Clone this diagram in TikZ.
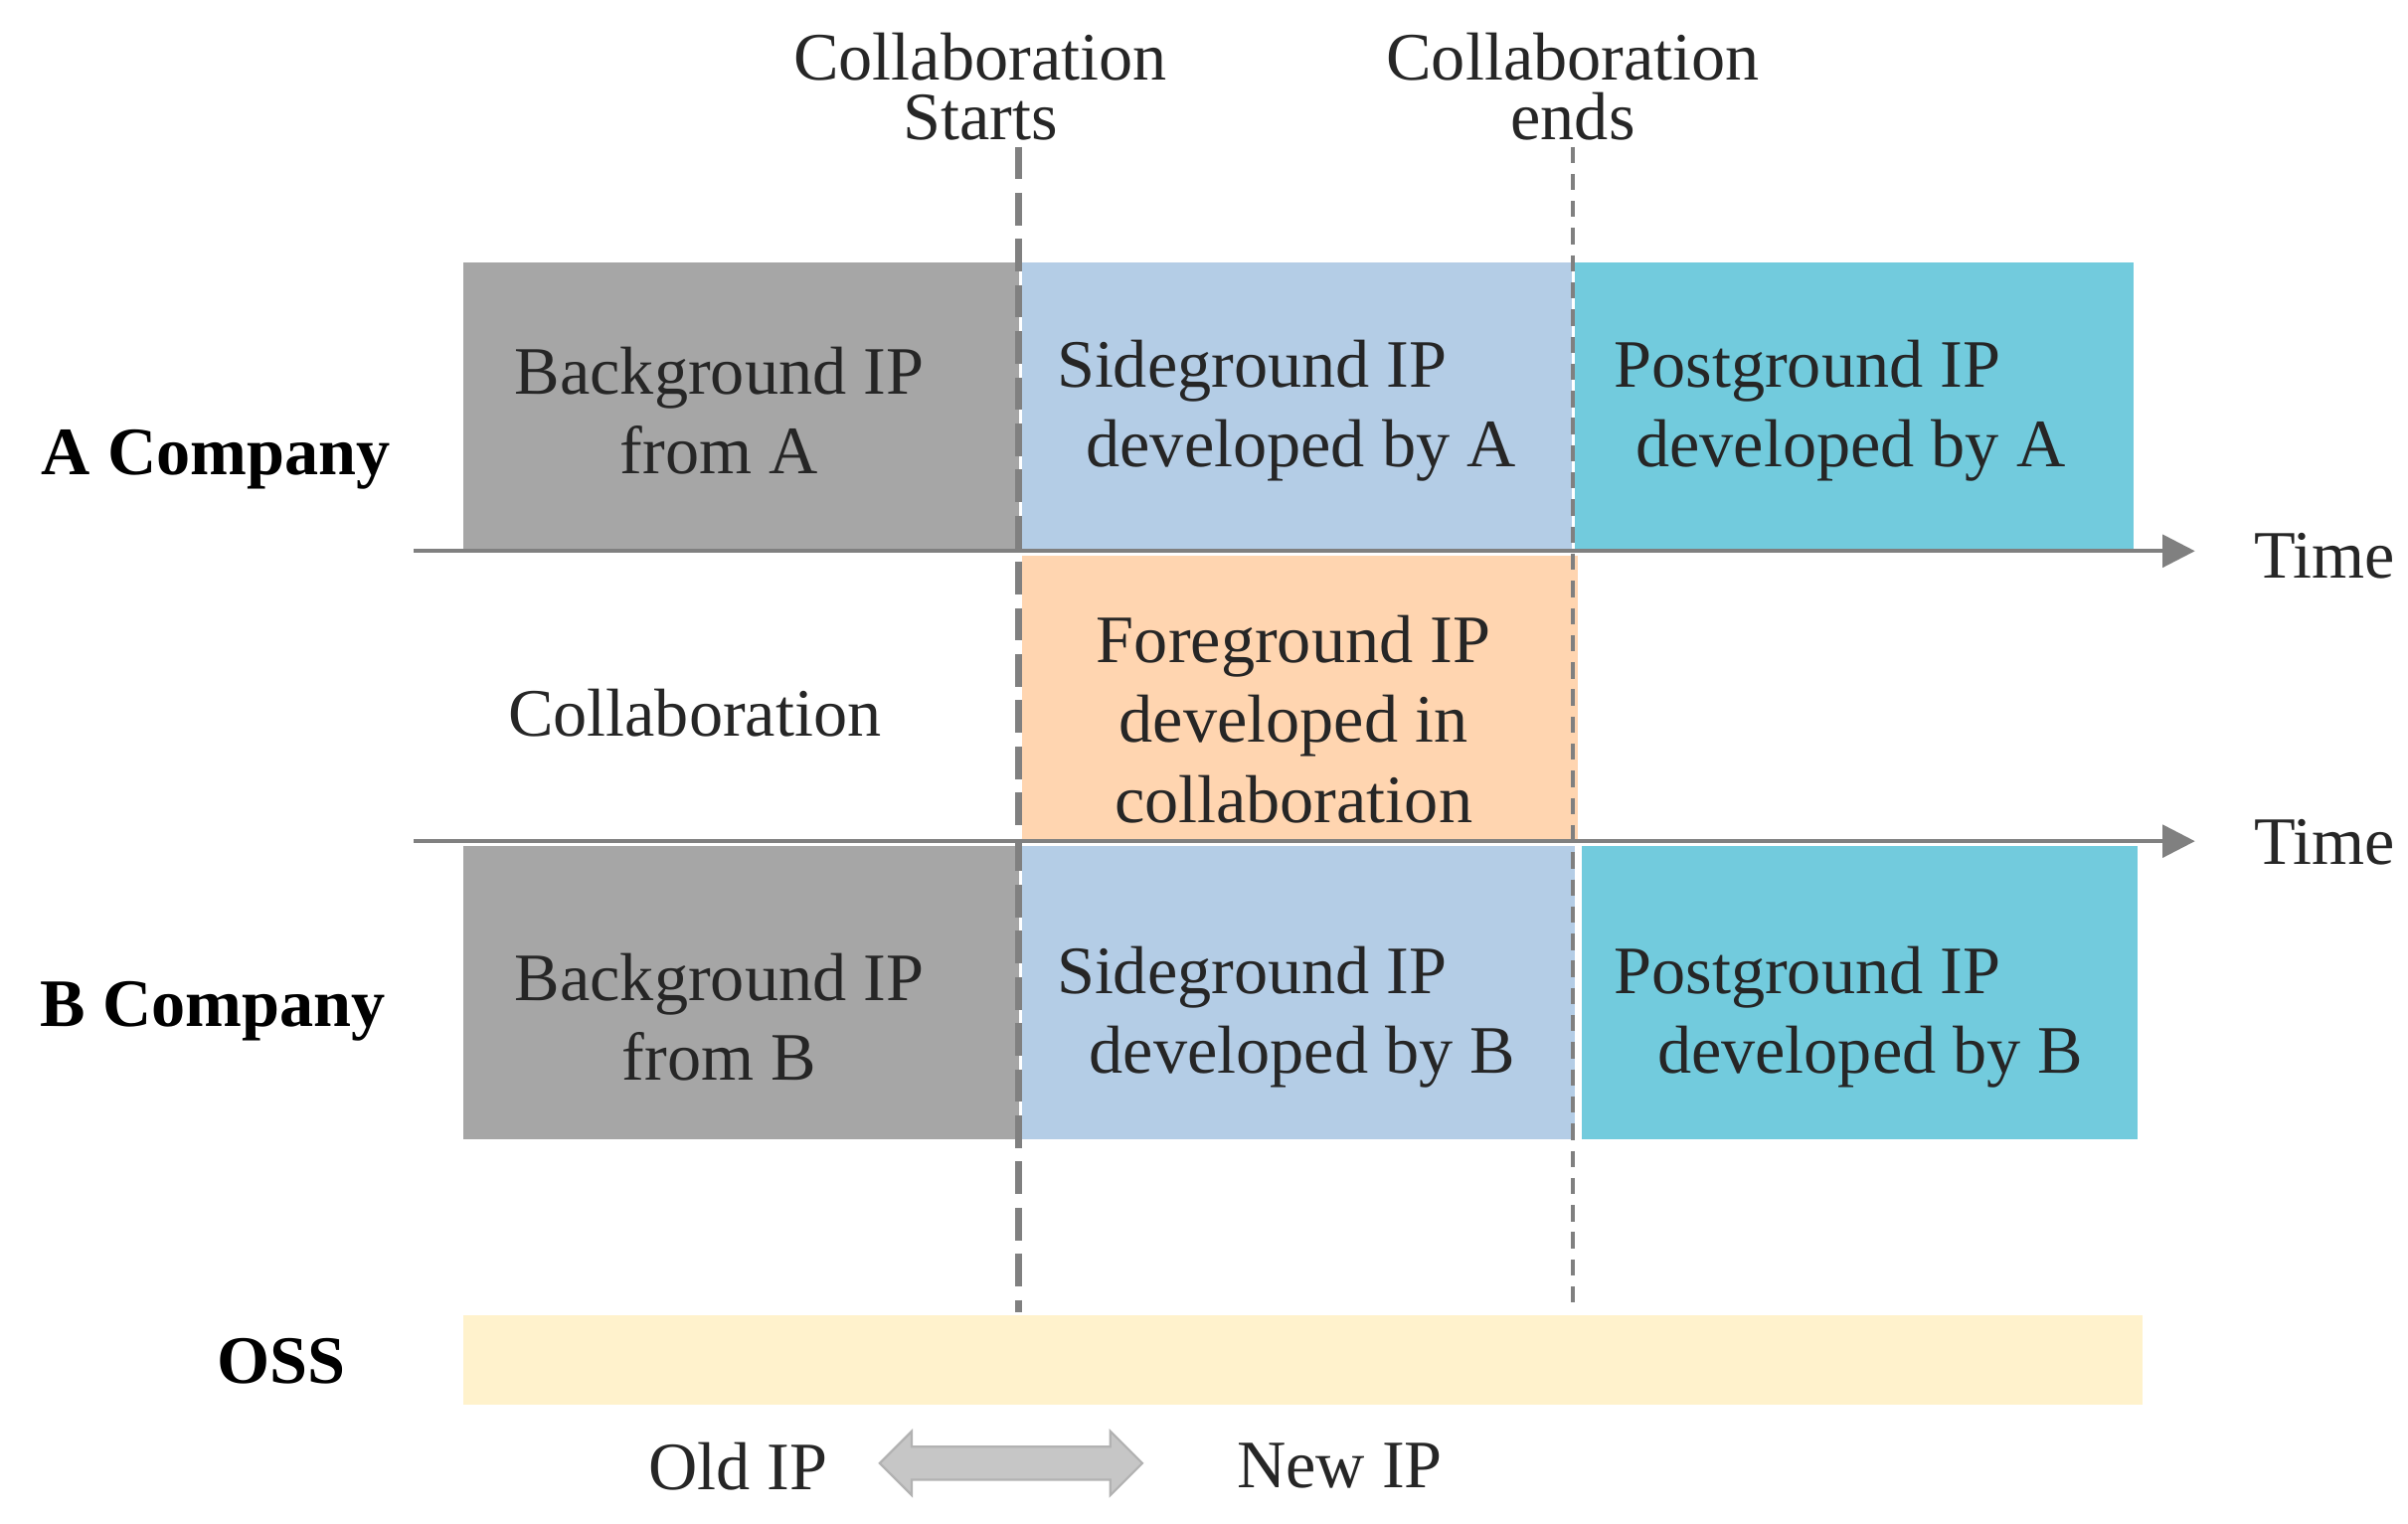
\documentclass[tikz,border=0pt]{standalone}
\usepackage{fontspec}
\setmainfont{Liberation Serif}
\usetikzlibrary{shapes.arrows,arrows.meta}
\definecolor{gbox}{HTML}{A6A6A6}
\definecolor{lblue}{HTML}{B4CDE6}
\definecolor{cyanb}{HTML}{72CBDD}
\definecolor{orng}{HTML}{FFD5B0}
\definecolor{oss}{HTML}{FFF2CC}
\definecolor{axis}{HTML}{808080}
\tikzset{
 x=0.01cm,y=-0.01cm,
 box/.style={draw=none,inner sep=0,font=\fontsize{12.5}{14.7}\selectfont,align=center,text=black!85},
 boxl/.style={draw=none,inner sep=0,font=\fontsize{12.5}{14.7}\selectfont,align=left,text=black!85,anchor=west},
 lbl/.style={font=\fontsize{12.5}{14.7}\selectfont,align=center,text=black!85},
 hd/.style={font=\fontsize{12.5}{11}\selectfont,align=center,text=black!85},
 bl/.style={font=\bfseries\fontsize{12.5}{14.7}\selectfont},
 axisline/.style={draw=axis,line width=0.7pt,-{Triangle[length=6pt,width=6pt]}}
}
\begin{document}
\begin{tikzpicture}
\useasboundingbox (0,0) rectangle (1560,987);
\fill[gbox] (300,170) rectangle (660,357);
\fill[lblue] (662,170) rectangle (1018,357);
\fill[cyanb] (1020,170) rectangle (1382,357);
\fill[orng] (662,360) rectangle (1022,545);
\fill[gbox] (300,548) rectangle (660,738);
\fill[lblue] (662,548) rectangle (1020,738);
\fill[cyanb] (1025,548) rectangle (1385,738);
\fill[oss] (300,852) rectangle (1388,910);
\node[box] (bga) at (466,266) {Background IP\\from A};
\node[boxl] (sga) at (684,266) {Sideground IP\\\hspace{0.19cm}developed by A};
\node[boxl] (pga) at (1045,266) {Postground IP\\\hspace{0.14cm}developed by A};
\node[box] (fg) at (838,466) {Foreground IP\\developed in\\collaboration};
\node[box] (bgb) at (466,659) {Background IP\\from B};
\node[boxl] (sgb) at (684,659) {Sideground IP\\\hspace{0.21cm}developed by B};
\node[boxl] (pgb) at (1045,659) {Postground IP\\\hspace{0.28cm}developed by B};
\coordinate (a0) at (268,357); \coordinate (a1) at (1422,357);
\coordinate (b0) at (268,545); \coordinate (b1) at (1422,545);
\draw[axisline] (a0) -- (a1);
\draw[axisline] (b0) -- (b1);
\node[lbl,anchor=west] (t1) at (1448,360) {Time};
\node[lbl,anchor=west] (t2) at (1448,546) {Time};
\node[hd] (cs) at (635,56) {Collaboration\\Starts};
\node[hd] (ce) at (1019,56) {Collaboration\\ends};
\coordinate (d1a) at (660,95); \coordinate (d1b) at (660,850);
\coordinate (d2a) at (1019,95); \coordinate (d2b) at (1019,850);
\draw[axis,line width=1.3pt,dash pattern=on 6pt off 2.5pt] (d1a) -- (d1b);
\draw[axis,line width=0.6pt,dash pattern=on 3pt off 2pt] (d2a) -- (d2b);
\node[bl] (ac) at (140,298) {A Company};
\node[bl] (bc) at (138,655) {B Company};
\node[bl] (os) at (182,882) {OSS};
\node[lbl] (co) at (450,462) {Collaboration};
\node[lbl] (old) at (478,950) {Old IP};
\node[lbl] (new) at (868,950) {New IP};
\node[double arrow,fill=gray!45,draw=gray!60,
  double arrow head extend=0.1cm,inner sep=0.1cm,minimum height=1.7cm,
  minimum width=0.2cm] (da) at (655,948) {};
\end{tikzpicture}
\end{document}
